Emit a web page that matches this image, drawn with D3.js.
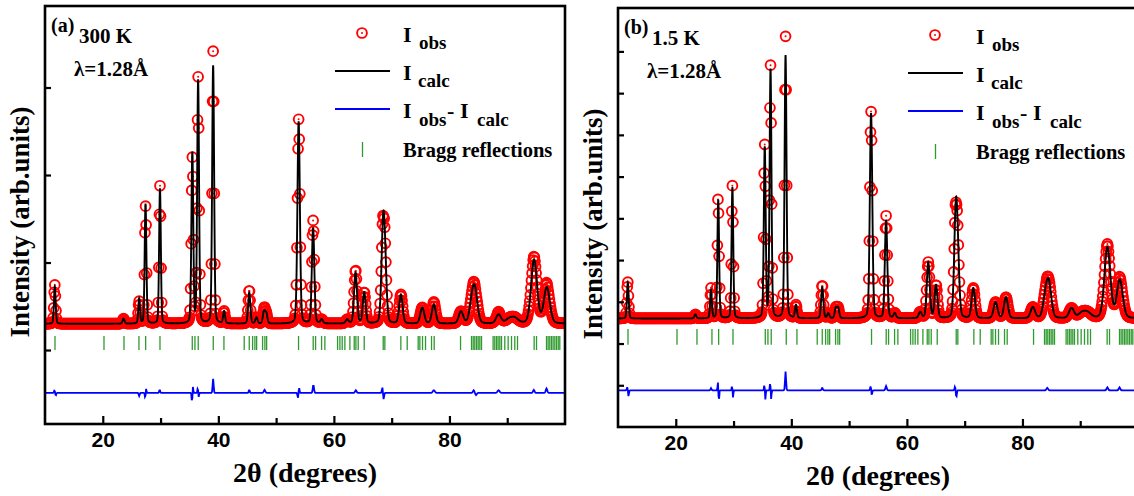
<!DOCTYPE html>
<html>
<head>
<meta charset="utf-8">
<script src="https://cdn.jsdelivr.net/npm/d3@7"></script>
<style>
    body { margin: 0; background: #fff; }
    svg text { font-family: "Liberation Serif", "Times New Roman", serif; font-weight: bold; fill: #000; }
    .axis text { font-family: "Liberation Sans", Arial, sans-serif; font-weight: bold; font-size: 21px; }
</style>
</head>
<body>
<script>

// Bragg reflection positions (2theta, degrees), same phase in both panels
var braggPos = [11.73, 20.21, 23.67, 26.26, 27.42, 29.90, 35.49, 35.95, 36.52, 39.12,
    40.97, 44.48, 45.35, 45.93, 46.33, 46.63, 47.66, 48.06, 48.36, 53.88,
    56.42, 56.83, 57.87, 58.44, 60.64, 61.04, 61.44, 61.90, 62.77, 63.52,
    63.81, 64.21, 65.25, 68.54, 68.82, 71.59, 72.69, 74.59, 74.88, 75.34,
    75.86, 76.90, 77.36, 81.92, 83.82, 84.11, 84.39, 84.69, 84.97, 85.26,
    85.55, 87.56, 87.85, 88.15, 88.42, 88.72, 89.01, 89.58, 90.16, 90.74,
    91.31, 91.78, 94.66, 95.07, 96.80, 97.08, 97.37, 97.66, 97.94, 98.24,
    98.53, 98.83, 99.10];

// (a) 300 K: fitted peaks
var peakPosA  = [11.7, 23.6, 26.3, 27.4, 29.9, 35.5, 36.5, 39.1, 41.0, 45.35, 46.6, 47.9, 48.3,
                 53.9, 56.4, 57.9, 62.3, 63.75, 65.25, 68.5, 68.85, 71.6, 75.3, 77.3, 82.0,
                 83.9, 84.45, 88.5, 90.3, 91.3, 94.65, 96.85];
var peakHgtA  = [850, 115, 570, 2740, 3090, 3890, 5550, 5900, 275, 710, 140, 275, 230,
                 4620, 2190, 90, 90, 1165, 710, 1960, 1150, 660, 365, 435, 275,
                 460, 650, 205, 90, 115, 1460, 820];
var peakFwhmA = [0.35, 0.4, 0.35, 0.35, 0.35, 0.38, 0.38, 0.4, 0.4, 0.45, 0.45, 0.45, 0.45,
                 0.5, 0.5, 0.5, 0.6, 0.6, 0.6, 0.65, 0.65, 0.7, 0.8, 0.8, 0.9,
                 1.0, 1.0, 1.0, 1.5, 1.5, 1.2, 1.2];
var backgroundA = 600;

// (a) difference curve features
var diffPosA  = [11.65, 11.85, 26.3, 27.35, 27.5, 29.85, 35.45, 35.6, 36.45, 36.6, 39.1, 45.35,
                 48.0, 53.8, 53.95, 56.45, 63.8, 68.4, 68.6, 77.3, 84.2, 84.6, 88.5, 94.6, 96.8];
var diffAmpA  = [60, -60, -70, -120, 100, 70, -230, 150, 120, -100, 320, 70,
                 70, -140, 140, 180, 60, 130, -150, 60, 60, -50, 60, 70, 100];
var diffFwhmA = [0.2, 0.2, 0.2, 0.15, 0.15, 0.2, 0.15, 0.15, 0.15, 0.15, 0.2, 0.2,
                 0.3, 0.2, 0.2, 0.25, 0.3, 0.2, 0.2, 0.4, 0.3, 0.3, 0.4, 0.3, 0.3];
var diffOffsetA = -980;

// (b) 1.5 K: fitted peaks
var peakPosB  = [11.7, 23.4, 26.1, 27.35, 29.8, 35.4, 36.4, 39.0, 40.8, 45.35, 46.4, 47.7, 48.1,
                 53.8, 56.4, 57.9, 62.3, 63.7, 65.05, 68.45, 68.8, 71.5, 75.35, 77.15, 81.8,
                 84.0, 84.6, 88.5, 90.3, 91.3, 94.7, 96.85];
var peakHgtB  = [865, 95, 670, 2830, 3140, 4080, 5950, 6300, 310, 745, 120, 240, 240,
                 4915, 2350, 120, 145, 1340, 790, 2280, 1200, 720, 385, 505, 265,
                 480, 740, 240, 120, 120, 1700, 910];
var peakFwhmB = peakFwhmA;
var backgroundB = 2600;

// (b) difference curve features
var diffPosB  = [11.65, 11.8, 26.1, 27.3, 27.45, 29.75, 29.9, 35.35, 35.5, 36.35, 36.5, 39.0,
                 45.35, 53.75, 53.9, 56.4, 68.35, 68.55, 84.3, 94.7, 96.8];
var diffAmpB  = [100, -160, 50, 200, -280, 120, -180, 150, -230, 200, -220, 450,
                 60, 120, -130, 100, 100, -170, 60, 70, 70];
var diffFwhmB = [0.2, 0.2, 0.2, 0.15, 0.15, 0.15, 0.15, 0.15, 0.15, 0.15, 0.15, 0.2,
                 0.2, 0.2, 0.2, 0.25, 0.2, 0.2, 0.3, 0.3, 0.3];
var diffOffsetB = 880;

// axis ticks
var xLabelTicks = [20, 40, 60, 80];
var xMinorTicks = [30, 50, 70, 90];
var yTicksA = [0, 2000, 4000, 6000];
var yTicksB = [1000, 2000, 3000, 4000, 5000, 6000, 7000, 8000, 9000];

var svgWidth = 1134;
var svgHeight = 496;

const svg = d3.select("body").append("svg")
    .attr("width", svgWidth)
    .attr("height", svgHeight);

drawPanel({
    id: "a", left: 45, right: 565, top: 6, bottom: 424,
    yDomain: [-1691, 7863], yTicks: yTicksA,
    peakPos: peakPosA, peakHgt: peakHgtA, peakFwhm: peakFwhmA, background: backgroundA,
    diffPos: diffPosA, diffAmp: diffAmpA, diffFwhm: diffFwhmA, diffOffset: diffOffsetA,
    braggTop: 320, braggBottom: 0,
    label: "(a)", temp: "300 K"
});

drawPanel({
    id: "b", left: 618, right: 1138, top: 8, bottom: 427,
    yDomain: [0, 10040], yTicks: yTicksB,
    peakPos: peakPosB, peakHgt: peakHgtB, peakFwhm: peakFwhmB, background: backgroundB,
    diffPos: diffPosB, diffAmp: diffAmpB, diffFwhm: diffFwhmB, diffOffset: diffOffsetB,
    braggTop: 2350, braggBottom: 1970,
    label: "(b)", temp: "1.5 K"
});


function profile(t, pos, hgt, fwhm) {
    /*
    Pseudo-Voigt peak shape
    */
    var z = (t - pos) / fwhm;
    var gauss = Math.exp(-4 * Math.LN2 * z * z);
    var lorentz = 1 / (1 + 4 * z * z);
    return hgt * (0.8 * gauss + 0.2 * lorentz);
}

function drawPanel(cfg) {

    var xScale = d3.scaleLinear().domain([10, 100]).range([cfg.left, cfg.right]);
    var yScale = d3.scaleLinear().domain(cfg.yDomain).range([cfg.bottom, cfg.top]);

    function calcAt(t) {
        var sum = cfg.background;
        for (var i = 0; i < cfg.peakPos.length; i++) {
            sum += profile(t, cfg.peakPos[i], cfg.peakHgt[i], cfg.peakFwhm[i]);
        }
        return sum;
    }

    function diffAt(t) {
        var sum = 0;
        for (var i = 0; i < cfg.diffPos.length; i++) {
            var z = (t - cfg.diffPos[i]) / cfg.diffFwhm[i];
            sum += cfg.diffAmp[i] * Math.exp(-4 * Math.LN2 * z * z);
        }
        return sum;
    }

    // measured points at the instrument step of 0.1 degrees
    var obs = [];
    for (var i = 0; i <= 900; i++) {
        var t = 10 + i * 0.1;
        var d = diffAt(t);
        obs.push({ t: t, obs: calcAt(t) + d, diff: d });
    }

    // calculated profile on a finer step
    var calc = [];
    for (var j = 0; j <= 4500; j++) {
        var tc = 10 + j * 0.02;
        calc.push({ t: tc, v: calcAt(tc) });
    }

    // clip everything to the frame
    svg.append("clipPath")
        .attr("id", "clip-" + cfg.id)
        .append("rect")
        .attr("x", cfg.left)
        .attr("y", cfg.top)
        .attr("width", cfg.right - cfg.left)
        .attr("height", cfg.bottom - cfg.top);

    const plot = svg.append("g").attr("clip-path", `url(#clip-${cfg.id})`);

    // observed points
    const points = plot.append("g");
    points.selectAll(".obs")
        .data(obs)
        .enter()
        .append("circle")
        .attr("class", "obs")
        .attr("cx", d => xScale(d.t))
        .attr("cy", d => yScale(d.obs))
        .attr("r", 4.9)
        .attr("fill", "none")
        .attr("stroke", "#ff0000")
        .attr("stroke-width", 1.9);

    points.selectAll(".dot")
        .data(obs)
        .enter()
        .append("circle")
        .attr("class", "dot")
        .attr("cx", d => xScale(d.t))
        .attr("cy", d => yScale(d.obs))
        .attr("r", 1)
        .attr("fill", "#ff0000");

    // calculated line
    plot.append("path")
        .datum(calc)
        .attr("fill", "none")
        .attr("stroke", "#000")
        .attr("stroke-width", 1.9)
        .attr("d", d3.line().x(d => xScale(d.t)).y(d => yScale(d.v)));

    // Bragg reflections
    plot.selectAll(".bragg")
        .data(braggPos)
        .enter()
        .append("line")
        .attr("class", "bragg")
        .attr("x1", d => xScale(d))
        .attr("x2", d => xScale(d))
        .attr("y1", yScale(cfg.braggTop))
        .attr("y2", yScale(cfg.braggBottom))
        .attr("stroke", "#2f9a2f")
        .attr("stroke-width", 1.3);

    // difference curve
    plot.append("path")
        .datum(obs)
        .attr("fill", "none")
        .attr("stroke", "#0000ff")
        .attr("stroke-width", 1.8)
        .attr("d", d3.line().x(d => xScale(d.t)).y(d => yScale(cfg.diffOffset + d.diff)));

    // x axis, ticks pointing inwards
    svg.append("g")
        .attr("class", "axis")
        .attr("transform", `translate(0, ${cfg.bottom})`)
        .call(d3.axisBottom(xScale).tickValues(xLabelTicks).tickSize(-8).tickPadding(8).tickFormat(d3.format("d")))
        .call(g => g.select(".domain").remove())
        .call(g => g.selectAll(".tick line").attr("stroke-width", 2.2));

    svg.append("g")
        .attr("transform", `translate(0, ${cfg.bottom})`)
        .call(d3.axisBottom(xScale).tickValues(xMinorTicks).tickSize(-6).tickFormat(""))
        .call(g => g.select(".domain").remove())
        .call(g => g.selectAll(".tick line").attr("stroke-width", 2.2));

    // y axis, ticks without labels
    svg.append("g")
        .attr("transform", `translate(${cfg.left}, 0)`)
        .call(d3.axisLeft(yScale).tickValues(cfg.yTicks).tickSize(-6).tickFormat(""))
        .call(g => g.select(".domain").remove())
        .call(g => g.selectAll(".tick line").attr("stroke-width", 2.2));

    // frame
    svg.append("rect")
        .attr("x", cfg.left)
        .attr("y", cfg.top)
        .attr("width", cfg.right - cfg.left)
        .attr("height", cfg.bottom - cfg.top)
        .attr("fill", "none")
        .attr("stroke", "#000")
        .attr("stroke-width", 2.6);

    // axis titles
    svg.append("text")
        .attr("x", (cfg.left + cfg.right) / 2)
        .attr("y", cfg.bottom + 58)
        .attr("text-anchor", "middle")
        .style("font-size", "28px")
        .text("2\u03b8 (degrees)");

    svg.append("text")
        .attr("transform", `translate(${cfg.left - 16}, ${cfg.top + 216})rotate(-90)`)
        .attr("text-anchor", "middle")
        .style("font-size", "27px")
        .text("Intensity (arb.units)");

    // panel annotations
    svg.append("text")
        .attr("x", cfg.left + 6)
        .attr("y", cfg.top + 26)
        .style("font-size", "20px")
        .text(cfg.label);

    svg.append("text")
        .attr("x", cfg.left + 34)
        .attr("y", cfg.top + 37)
        .style("font-size", "21px")
        .text(cfg.temp);

    svg.append("text")
        .attr("x", cfg.left + 29)
        .attr("y", cfg.top + 70)
        .style("font-size", "21px")
        .text("\u03bb=1.28\u00c5");

    // legend
    var lx = cfg.left;
    var ly = cfg.top;
    const legend = svg.append("g");

    legend.append("circle")
        .attr("cx", lx + 317).attr("cy", ly + 27)
        .attr("r", 4.9).attr("fill", "none")
        .attr("stroke", "#ff0000").attr("stroke-width", 1.9);
    legend.append("circle")
        .attr("cx", lx + 317).attr("cy", ly + 27)
        .attr("r", 1).attr("fill", "#ff0000");

    legend.append("line")
        .attr("x1", lx + 290).attr("x2", lx + 345)
        .attr("y1", ly + 65).attr("y2", ly + 65)
        .attr("stroke", "#000").attr("stroke-width", 1.9);

    legend.append("line")
        .attr("x1", lx + 290).attr("x2", lx + 345)
        .attr("y1", ly + 103).attr("y2", ly + 103)
        .attr("stroke", "#0000ff").attr("stroke-width", 1.9);

    legend.append("line")
        .attr("x1", lx + 317.5).attr("x2", lx + 317.5)
        .attr("y1", ly + 136).attr("y2", ly + 151)
        .attr("stroke", "#2f9a2f").attr("stroke-width", 1.3);

    function bigI(x, y) {
        legend.append("text").attr("x", x).attr("y", y).style("font-size", "22px").text("I");
    }
    function sub(x, y, s) {
        legend.append("text").attr("x", x).attr("y", y).style("font-size", "19px").text(s);
    }

    bigI(lx + 358, ly + 36);
    sub(lx + 374, ly + 43, "obs");

    bigI(lx + 358, ly + 74);
    sub(lx + 373, ly + 81, "calc");

    bigI(lx + 358, ly + 112);
    sub(lx + 374, ly + 120, "obs");
    legend.append("text").attr("x", lx + 402).attr("y", ly + 112).style("font-size", "22px").text("-");
    bigI(lx + 415, ly + 112);
    sub(lx + 432, ly + 120, "calc");

    legend.append("text")
        .attr("x", lx + 358)
        .attr("y", ly + 151)
        .style("font-size", "20.5px")
        .text("Bragg reflections");
}

</script>
</body>
</html>
